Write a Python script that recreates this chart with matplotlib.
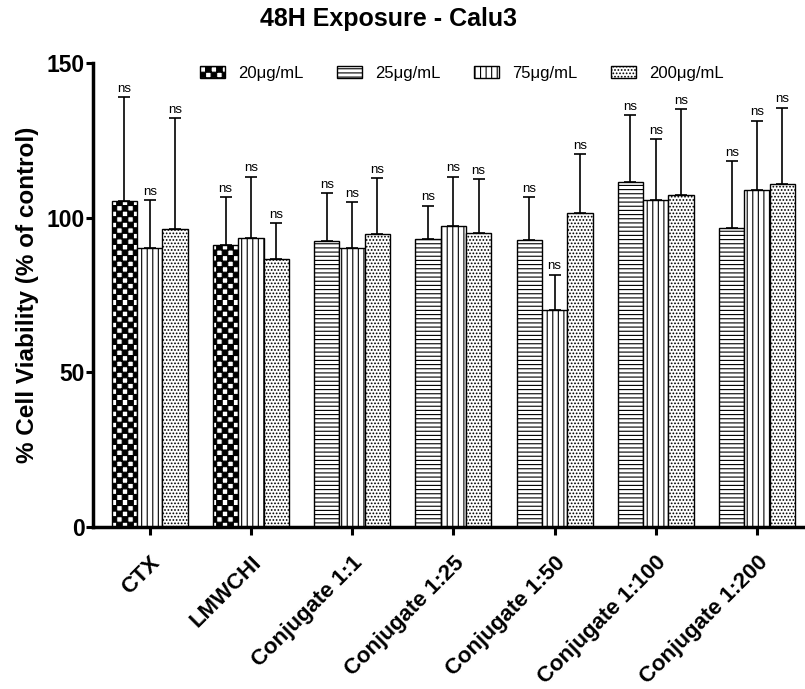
import warnings
import numpy as np
import matplotlib
matplotlib.use("Agg")
import matplotlib.pyplot as plt
import matplotlib.hatch as mhatch
from matplotlib.path import Path

warnings.filterwarnings("ignore")

groups = ["CTX", "LMWCHI", "Conjugate 1:1", "Conjugate 1:25",
          "Conjugate 1:50", "Conjugate 1:100", "Conjugate 1:200"]
series_labels = ["20μg/mL", "25μg/mL", "75μg/mL", "200μg/mL"]

nan = np.nan
v20 = [105.4, 91.2, nan, nan, nan, nan, nan]
v25 = [nan, nan, 92.5, 93.1, 92.8, 111.5, 96.7]
v75 = [90.2, 93.4, 90.2, 97.3, 70.2, 105.7, 109.0]
v200 = [96.3, 86.6, 94.7, 95.0, 101.5, 107.3, 110.9]

e20 = [33.6, 15.5, nan, nan, nan, nan, nan]
e25 = [nan, nan, 15.5, 10.7, 13.9, 21.7, 21.6]
e75 = [15.5, 19.8, 14.8, 15.9, 11.3, 19.7, 22.3]
e200 = [35.9, 11.7, 18.1, 17.5, 19.1, 27.8, 24.6]


# checkerboard hatch, selected with 'c'
class CheckerHatch(mhatch.HatchPatternBase):
    def __init__(self, hatch, density):
        self.n = int(hatch.count('c') * density)
        self.cells = [(i, j) for i in range(self.n) for j in range(self.n)
                      if (i + j) % 2 == 0]
        self.num_vertices = len(self.cells) * 5

    def set_vertices_and_codes(self, vertices, codes):
        s = 1.0 / self.n
        for k, (i, j) in enumerate(self.cells):
            x0, y0 = i * s, j * s
            vertices[k*5:k*5+5] = [(x0, y0), (x0+s, y0), (x0+s, y0+s),
                                   (x0, y0+s), (x0, y0)]
            codes[k*5:k*5+5] = [Path.MOVETO, Path.LINETO, Path.LINETO,
                                Path.LINETO, Path.CLOSEPOLY]


mhatch._hatch_types.append(CheckerHatch)

plt.rcParams['font.family'] = ['Liberation Sans', 'DejaVu Sans']
plt.rcParams['hatch.linewidth'] = 0.8

fig = plt.figure(figsize=(8.05, 6.89), dpi=100)
ax = fig.add_axes([0.1155, 0.235, 0.884, 0.6735])

x = np.arange(len(groups))
w = 0.25
specs = [
    (v20, e20, -w, 'ccc'),
    (v25, e25, -w, '----'),
    (v75, e75, 0, '|||'),
    (v200, e200, w, '.....'),
]

for (vals, errs, off, hatch), lab in zip(specs, series_labels):
    vals = np.array(vals)
    errs = np.array(errs)
    m = ~np.isnan(vals)
    xs = x[m] + off
    ax.bar(xs, vals[m], w, color='white', edgecolor='black', linewidth=1.0,
           hatch=hatch, label=lab, zorder=2)
    ax.errorbar(xs, vals[m], yerr=[np.zeros(m.sum()), errs[m]], fmt='none',
                ecolor='black', elinewidth=1.2, capsize=4, capthick=1.2, zorder=3)
    for xi, vi, ei in zip(xs, vals[m], errs[m]):
        ax.text(xi, vi + ei + 0.8, 'ns', ha='center', va='bottom', fontsize=9.5)

ax.set_xlim(-0.56, 6.47)
ax.set_ylim(0, 150)
ax.set_yticks([0, 50, 100, 150])
ax.set_xticks(x)
ax.set_xticklabels(groups, rotation=45, ha='right', rotation_mode='anchor',
                   fontsize=16, fontweight='bold')
for lbl in ax.get_yticklabels():
    lbl.set_fontsize(16.5)
    lbl.set_fontweight('bold')
ax.tick_params(axis='both', width=2.2, direction='out')
ax.tick_params(axis='x', length=6, pad=12)
ax.tick_params(axis='y', length=5, pad=1)

for side in ['top', 'right']:
    ax.spines[side].set_visible(False)
for side in ['left', 'bottom']:
    ax.spines[side].set_linewidth(2.5)

ax.set_ylabel('% Cell Viability (% of control)', fontsize=17.5, fontweight='bold',
              labelpad=5)
fig.text(0.482, 0.973, '48H Exposure - Calu3', fontsize=18, fontweight='bold',
         ha='center', va='center')

ax.legend(loc='center', bbox_to_anchor=(0.518, 0.978), ncol=4, frameon=False,
          fontsize=12, handlelength=1.5, handleheight=0.8, columnspacing=2.0,
          handletextpad=0.8)

fig.savefig('out.png', dpi=100)
